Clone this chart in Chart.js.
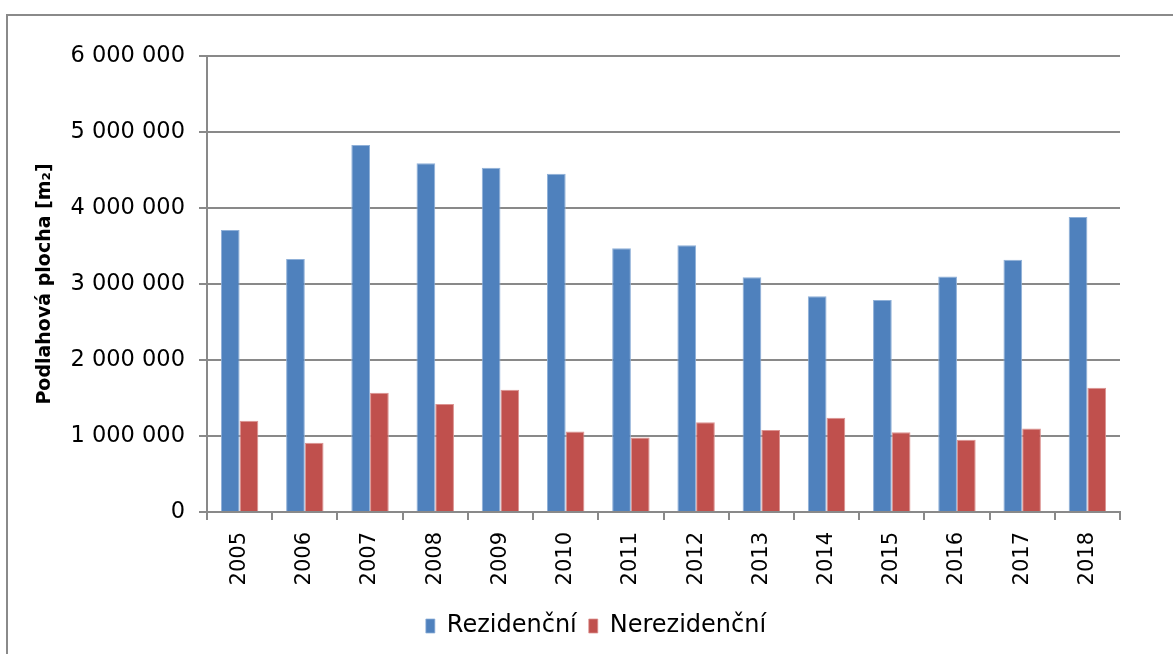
<!DOCTYPE html>
<html>
<head>
<meta charset="utf-8">
<script src="https://cdn.jsdelivr.net/npm/chart.js@4"></script>
<style>
  body { margin: 0; background: #fff; }
  #wrap { position: relative; width: 1173px; height: 654px; overflow: hidden; }
  #frame { position: absolute; left: 6px; top: 14px; width: 1200px; height: 700px; border: 2px solid #8a8a8a; box-sizing: border-box; }
  canvas { position: absolute; left: 0; top: 0; }
</style>
</head>
<body>
<div id="wrap">
  <div id="frame"></div>
  <canvas id="graf" width="1173" height="654"></canvas>
</div>
<script>
const roky = ["2005", "2006", "2007", "2008", "2009", "2010", "2011", "2012", "2013", "2014", "2015", "2016", "2017", "2018"];
const rezidencni = [3710000, 3330000, 4830000, 4590000, 4530000, 4450000, 3470000, 3510000, 3090000, 2840000, 2790000, 3100000, 3320000, 3880000];
const nerezidencni = [1200000, 910000, 1570000, 1420000, 1610000, 1060000, 980000, 1180000, 1080000, 1240000, 1050000, 950000, 1100000, 1635000];

const pismo = "'DejaVu Sans', sans-serif";
const seda = "#898989";

function formatCislo(v) {
  return String(v).replace(/\B(?=(\d{3})+(?!\d))/g, " ");
}

// posune legendu trochu doprava, jako v originalu
const posunLegendy = {
  id: "posunLegendy",
  afterLayout(chart) {
    chart.legend.left += 36;
    chart.legend.right += 36;
  }
};

new Chart(document.getElementById("graf"), {
  type: "bar",
  data: {
    labels: roky,
    datasets: [
      { label: "Rezidenční", data: rezidencni, backgroundColor: "#4f81bd", borderColor: "#8fb0d8", borderWidth: { top: 1, left: 1, right: 1, bottom: 0 } },
      { label: "Nerezidenční", data: nerezidencni, backgroundColor: "#c0504d", borderColor: "#dc9391", borderWidth: { top: 1, left: 1, right: 1, bottom: 0 } }
    ]
  },
  plugins: [posunLegendy],
  options: {
    responsive: false,
    animation: false,
    layout: { padding: { left: 0, top: 56, right: 53, bottom: 6 } },
    datasets: { bar: { categoryPercentage: 0.574, barPercentage: 1 } },
    plugins: {
      tooltip: { enabled: false },
      legend: {
        position: "bottom",
        labels: {
          font: { family: pismo, size: 24 },
          color: "#000",
          boxWidth: 9,
          boxHeight: 14,
          padding: 12
        }
      }
    },
    scales: {
      x: {
        afterFit: s => { s.height = 90; },
        grid: { drawOnChartArea: false, drawTicks: true, tickLength: 8, color: seda, lineWidth: 2, offset: true },
        border: { color: seda, width: 2 },
        ticks: { font: { family: pismo, size: 21 }, color: "#000", minRotation: 90, maxRotation: 90, padding: 12 }
      },
      y: {
        min: 0,
        max: 6000000,
        afterFit: s => { s.width = 207; },
        grid: { color: seda, lineWidth: 2, tickLength: 8 },
        border: { color: seda, width: 2 },
        ticks: {
          stepSize: 1000000,
          font: { family: pismo, size: 22.5 },
          color: "#000",
          padding: 14,
          callback: v => formatCislo(v)
        },
        title: {
          display: true,
          text: "Podlahová plocha [m₂]",
          font: { family: pismo, size: 19, weight: "bold" },
          color: "#000",
          padding: { top: 34, bottom: 0 }
        }
      }
    }
  }
});
</script>
</body>
</html>
